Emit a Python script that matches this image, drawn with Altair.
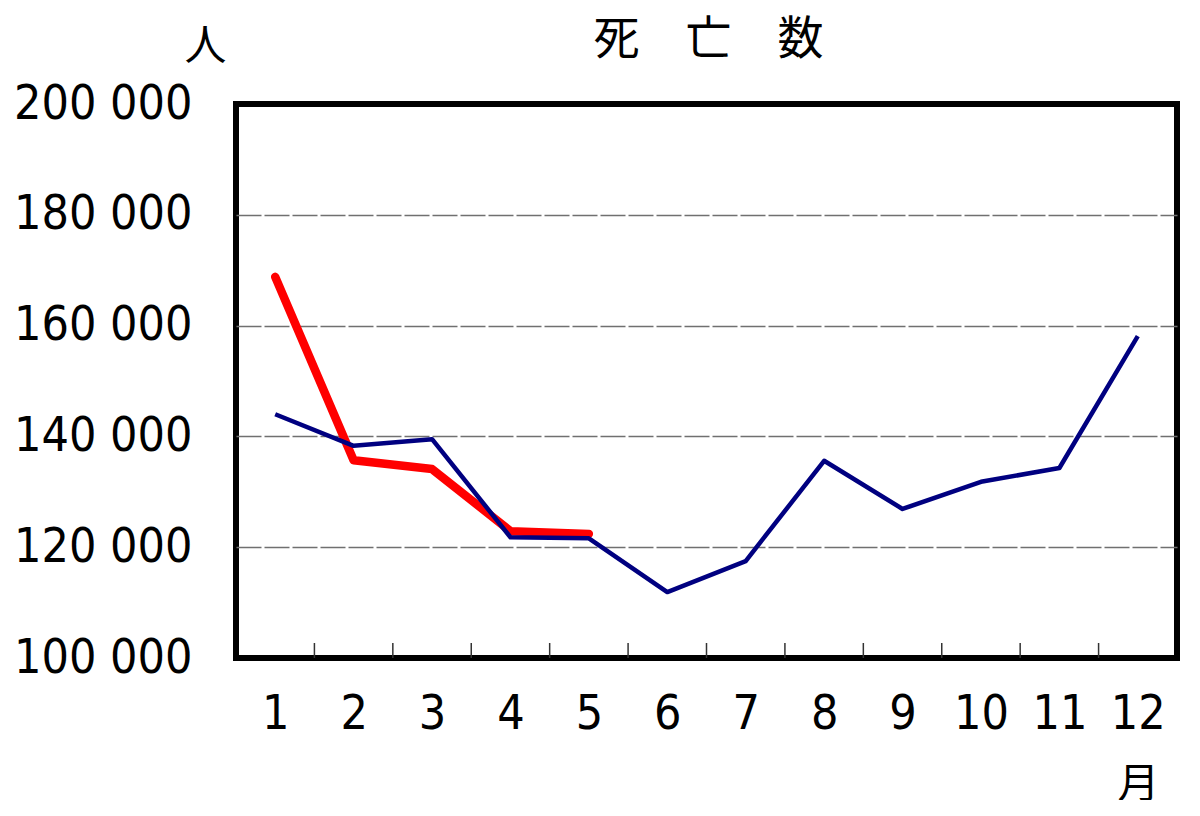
import altair as alt
import pandas as pd

# monthly deaths
months = list(range(1, 13))
deaths_prev = [144000, 138300, 139500, 121800, 121600, 111900,
               117500, 135600, 126900, 131800, 134300, 158100]
deaths_curr = [168800, 135700, 134100, 122900, 122400]

title_text = '死　亡　数'
y_unit = '人'
x_unit = '月'
y_ticks = [100000, 120000, 140000, 160000, 180000, 200000]

W, H = 941, 554
num_font = 'DejaVu Sans Condensed, DejaVu Sans, sans-serif'
cjk_font = 'Noto Sans CJK JP'

prev = pd.DataFrame({'month': months, 'deaths': deaths_prev})
curr = pd.DataFrame({'month': months[:len(deaths_curr)], 'deaths': deaths_curr})
bounds = pd.DataFrame({'b': [m + 0.5 for m in months[:-1]]})

x_scale = alt.Scale(domain=[0.5, 12.5], nice=False, zero=False)
y_scale = alt.Scale(domain=[100000, 200000], nice=False, zero=False)

# no grid line on the frame edges
edge_test = f'datum.value <= {y_ticks[0]} || datum.value >= {y_ticks[-1]}'

x_axis = alt.Axis(values=months, format='d', ticks=False, tickSize=0, domain=False, grid=False,
                  labelFont=num_font, labelFontSize=48, labelColor='black',
                  labelPadding=32, labelFlush=False, labelAngle=0,
                  labelOverlap=False, labelLimit=0,
                  title=x_unit, titleFont=cjk_font, titleFontSize=42,
                  titleFontWeight='normal', titleColor='black',
                  titleX=902, titleY=126, titleAlign='center', titleBaseline='middle')
y_axis = alt.Axis(values=y_ticks, ticks=False, tickSize=0, domain=False,
                  grid=True, gridColor='#707070', gridDash=[25, 3], gridWidth=1.3,
                  gridOpacity={'condition': {'test': edge_test, 'value': 0}, 'value': 1},
                  labelFont=num_font, labelFontSize=48, labelColor='black',
                  labelPadding=44, labelFlush=False, labelOverlap=False, labelLimit=0,
                  labelExpr="replace(format(datum.value, ','), ',', ' ')",
                  title=y_unit, titleFont=cjk_font, titleFontSize=42,
                  titleFontWeight='normal', titleColor='black', titleAngle=0,
                  titleX=-31, titleY=-58, titleAlign='center', titleBaseline='middle')

red_line = alt.Chart(curr).mark_line(color='#ff0000', strokeWidth=8.5,
                                     strokeCap='round', strokeJoin='round').encode(
    x=alt.X('month:Q', scale=x_scale, axis=x_axis),
    y=alt.Y('deaths:Q', scale=y_scale, axis=y_axis),
)

blue_line = alt.Chart(prev).mark_line(color='#000080', strokeWidth=4.5,
                                      strokeJoin='round').encode(
    x=alt.X('month:Q', scale=x_scale),
    y=alt.Y('deaths:Q', scale=y_scale),
)

ticks = alt.Chart(bounds).mark_rule(color='#333333', strokeWidth=1.5).encode(
    x=alt.X('b:Q', scale=x_scale),
    y=alt.value(H - 15),
    y2=alt.value(H),
)

title = alt.Chart(pd.DataFrame({'t': [title_text]})).mark_text(
    font=cjk_font, fontSize=46, color='black', align='center', baseline='middle'
).encode(
    text='t:N',
    x=alt.value(W / 2 + 2),
    y=alt.value(-64),
)

chart = (ticks + red_line + blue_line + title).properties(
    width=W,
    height=H,
    autosize=alt.AutoSizeParams(type='none'),
    padding={'left': 228, 'top': 96, 'right': 15, 'bottom': 142},
    background='white',
).configure_view(
    stroke='black',
    strokeWidth=6,
)

chart.save('out.html', embed_options={'renderer': 'svg', 'actions': False})
